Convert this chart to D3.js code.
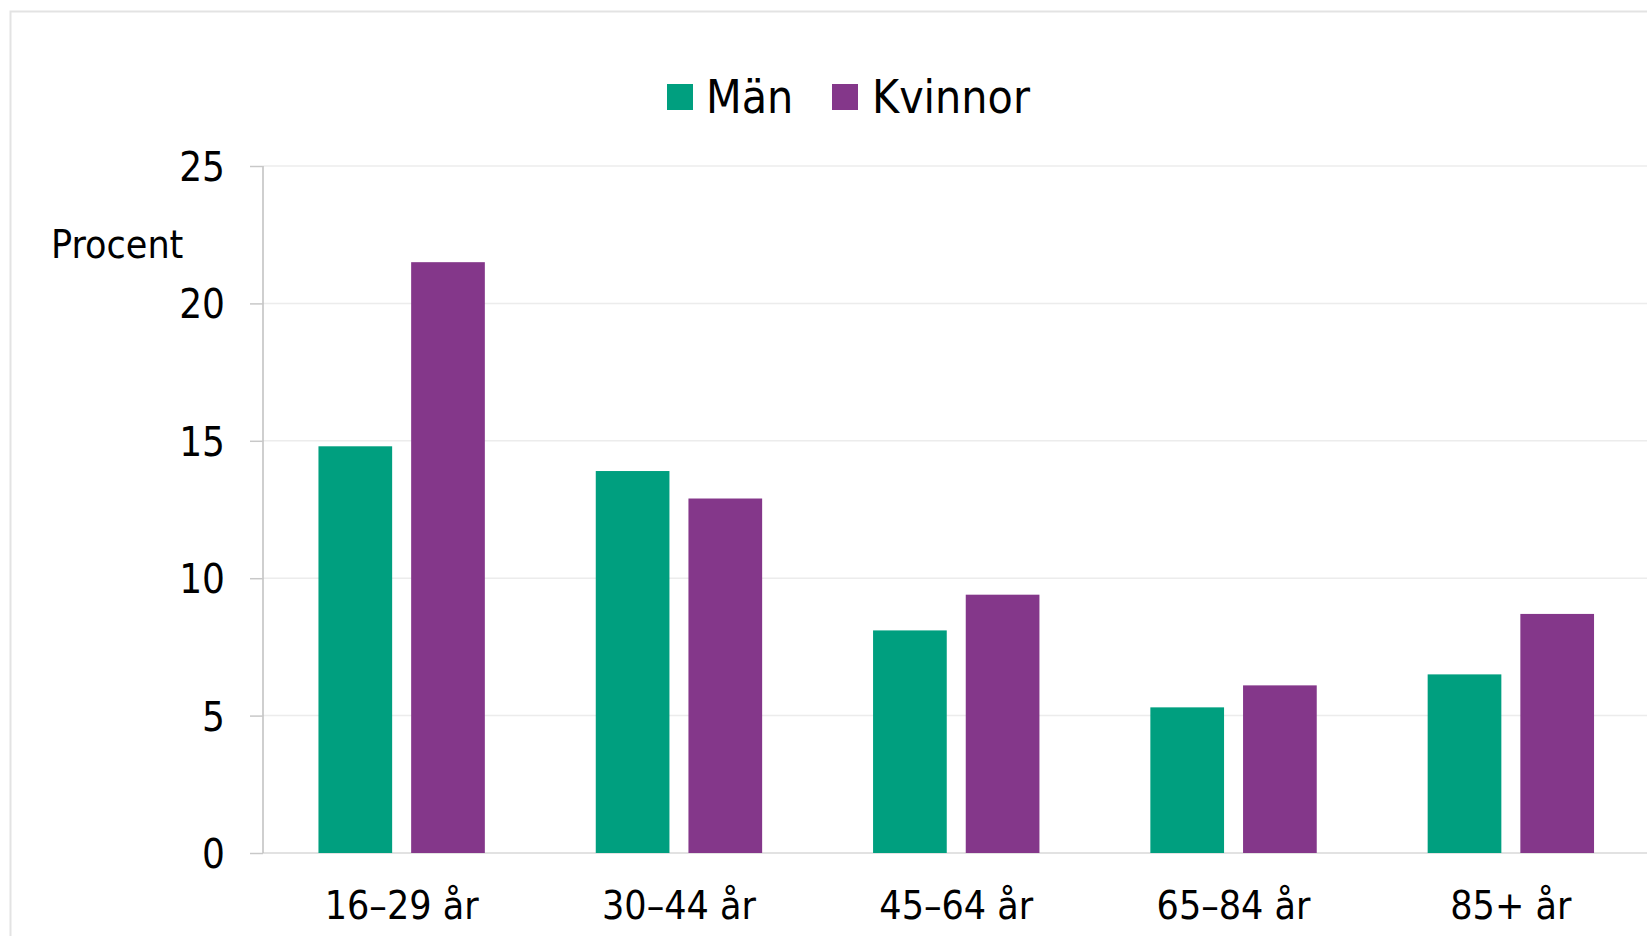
<!DOCTYPE html>
<html>
<head>
<meta charset="utf-8">
<script src="https://cdn.jsdelivr.net/npm/d3@7"></script>
<style>
  html, body { margin: 0; padding: 0; background: #fff; overflow: hidden; }
  svg { display: block; font-family: "DejaVu Sans Condensed", "DejaVu Sans", sans-serif; }
</style>
</head>
<body>
<script>
var categories = ["16–29 år", "30–44 år", "45–64 år", "65–84 år", "85+ år"];
var series = ["Män", "Kvinnor"];
var man = [14.8, 13.9, 8.1, 5.3, 6.5];
var kvinnor = [21.5, 12.9, 9.4, 6.1, 8.7];
var yTicks = [0, 5, 10, 15, 20, 25];

var colors = {"Män": "#009f7f", "Kvinnor": "#84378a"};

width = 1647
height = 936

var rows = categories.map((c, i) => ({cat: c, values: [
  {key: "Män", value: man[i]},
  {key: "Kvinnor", value: kvinnor[i]}
]}));

var axisX = 263;
var x0 = d3.scaleBand()
    .domain(categories)
    .range([axisX, axisX + 5 * 277.3])
    .paddingInner(0.4)
    .paddingOuter(0.2);

var x1 = d3.scaleBand()
    .domain(series)
    .range([0, x0.bandwidth()])
    .paddingInner(0.205);

var y = d3.scaleLinear()
    .domain([0, 25])
    .range([853, 166]);

const svg = d3.select("body").append("svg")
    .attr("width", width)
    .attr("height", height);

// outer frame, runs off the right and bottom edge
svg.append("rect")
    .attr("x", 10.5).attr("y", 11.5)
    .attr("width", width + 20).attr("height", height + 20)
    .attr("fill", "none")
    .attr("stroke", "#e3e3e3")
    .attr("stroke-width", 2);

// gridlines
svg.append("g")
  .selectAll("line")
  .data(yTicks)
  .join("line")
    .attr("x1", axisX).attr("x2", width)
    .attr("y1", d => y(d)).attr("y2", d => y(d))
    .attr("stroke", d => d == 0 ? "#d9d9d9" : "#ececec")
    .attr("stroke-width", 1.5);

// y axis
const yAxis = svg.append("g")
    .attr("transform", `translate(${axisX},0)`)
    .call(d3.axisLeft(y).tickValues(yTicks).tickSize(13).tickPadding(25));

yAxis.select(".domain")
    .attr("stroke", "#bfbfbf")
    .attr("stroke-width", 1.5)
    .attr("d", `M0,${y(0)}V${y(25)}`);
yAxis.selectAll(".tick line").attr("stroke", "#c8c8c8").attr("stroke-width", 1.5);
yAxis.selectAll(".tick text")
    .attr("font-size", 40)
    .attr("font-family", "DejaVu Sans Condensed, DejaVu Sans, sans-serif")
    .attr("fill", "#000")
    .attr("dy", "0.36em");

svg.append("text")
    .attr("x", 51).attr("y", 258)
    .attr("font-size", 39)
    .text("Procent");

// bars
const group = svg.append("g")
  .selectAll("g")
  .data(rows)
  .join("g")
    .attr("transform", d => `translate(${x0(d.cat)},0)`);

group.selectAll("rect")
  .data(d => d.values)
  .join("rect")
    .attr("x", d => x1(d.key))
    .attr("width", x1.bandwidth())
    .attr("y", d => y(d.value))
    .attr("height", d => y(0) - y(d.value))
    .attr("fill", d => colors[d.key]);

// category labels
svg.append("g")
  .selectAll("text")
  .data(categories)
  .join("text")
    .attr("x", d => x0(d) + x0.bandwidth() / 2)
    .attr("y", 919)
    .attr("text-anchor", "middle")
    .attr("font-size", 39)
    .text(d => d);

// legend
var legendItems = [{key: "Män", x: 667, tx: 706}, {key: "Kvinnor", x: 832, tx: 872}];
const legend = svg.append("g")
  .selectAll("g")
  .data(legendItems)
  .join("g");

legend.append("rect")
    .attr("x", d => d.x).attr("y", 84)
    .attr("width", 26).attr("height", 26)
    .attr("fill", d => colors[d.key]);

legend.append("text")
    .attr("x", d => d.tx).attr("y", 113)
    .attr("font-size", 46)
    .text(d => d.key);
</script>
</body>
</html>
